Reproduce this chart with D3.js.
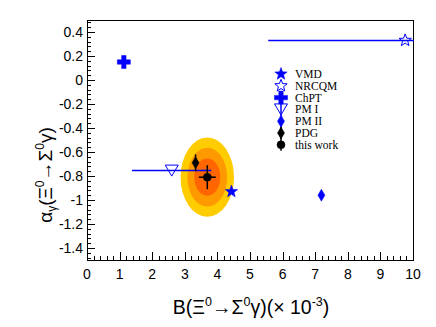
<!DOCTYPE html>
<html>
<head>
<meta charset="utf-8">
<script src="https://cdn.jsdelivr.net/npm/d3@7"></script>
<style>
  body { margin: 0; background: #fff; }
  svg { display: block; }
</style>
</head>
<body>
<svg width="436" height="327"></svg>
<script>
// Theory predictions and measurements
const models = ['VMD', 'NRCQM', 'ChPT', 'PM I', 'PM II', 'PDG', 'this work']
const bValues = [4.43, 9.76, 1.13, 2.6, 7.19, 3.33, 3.69]
const alphaValues = [-0.93, 0.33, 0.15, -0.755, -0.96, -0.69, -0.81]
const bErrLow = [0, 4.2, 0, 1.22, 0, 0, 0.26]
const bErrHigh = [0, 1.0, 0, 1.21, 0, 0, 0.26]
const alphaErr = [0, 0, 0, 0, 0, 0.07, 0.1]
const markerColors = ['blue', 'blue', 'blue', 'blue', 'blue', 'black', 'black']

// confidence contours around this work (3, 2, 1 sigma)
const contourRx = [0.82, 0.61, 0.4]
const contourRy = [0.33, 0.245, 0.155]
const contourColors = ['#ffcc00', '#ff9900', '#ff6600']

const xTicks = d3.range(0, 11, 1)
const yTicks = [-1.4, -1.2, -1, -0.8, -0.6, -0.4, -0.2, 0, 0.2, 0.4]

const svg = d3.select('svg')
const frameL = 87, frameR = 413, frameT = 20, frameB = 260

const x = d3.scaleLinear().domain([0, 10]).range([frameL, frameR])
const y = d3.scaleLinear().domain([-1.5, 0.5]).range([frameB, frameT])

// contours
svg.append('g')
  .selectAll('ellipse')
  .data(contourRx)
  .join('ellipse')
  .attr('cx', x(bValues[6]))
  .attr('cy', y(alphaValues[6]))
  .attr('rx', d => x(d) - x(0))
  .attr('ry', (d, i) => y(0) - y(contourRy[i]))
  .attr('fill', (d, i) => contourColors[i])

// ticks on left and bottom (inside)
const axes = svg.append('g').attr('stroke', 'black').attr('stroke-width', 1)
d3.range(-1.48, 0.5, 0.04).forEach(v => {
  const major = yTicks.some(t => Math.abs(t - v) < 1e-6)
  axes.append('line')
    .attr('x1', frameL).attr('x2', frameL + (major ? 8 : 4))
    .attr('y1', Math.round(y(v)) + 0.5).attr('y2', Math.round(y(v)) + 0.5)
})
d3.range(0, 10.01, 0.2).forEach(v => {
  const major = xTicks.some(t => Math.abs(t - v) < 1e-6)
  axes.append('line')
    .attr('x1', Math.round(x(v)) + 0.5).attr('x2', Math.round(x(v)) + 0.5)
    .attr('y1', frameB).attr('y2', frameB - (major ? 8 : 4))
})

svg.append('rect')
  .attr('x', frameL + 0.5).attr('y', frameT + 0.5)
  .attr('width', frameR - frameL).attr('height', frameB - frameT)
  .attr('fill', 'none').attr('stroke', 'black')

// tick labels
const labelFont = '"Liberation Sans", Arial, sans-serif'
svg.append('g')
  .selectAll('text')
  .data(yTicks)
  .join('text')
  .attr('x', frameL - 4)
  .attr('y', d => y(d) + 5)
  .attr('text-anchor', 'end')
  .attr('font-family', labelFont)
  .attr('font-size', 14)
  .text(d => String(+d.toFixed(1)))

svg.append('g')
  .selectAll('text')
  .data(xTicks)
  .join('text')
  .attr('x', d => x(d))
  .attr('y', 279)
  .attr('text-anchor', 'middle')
  .attr('font-family', labelFont)
  .attr('font-size', 14)
  .text(d => d)

// axis titles
const xt = svg.append('text')
  .attr('x', 251).attr('y', 314)
  .attr('text-anchor', 'middle')
  .attr('font-family', labelFont)
  .attr('font-size', 19.5)
xt.append('tspan').text('B(Ξ')
xt.append('tspan').attr('font-size', 12.5).attr('dy', -8).text('0')
xt.append('tspan').attr('dy', 8).text('→Σ')
xt.append('tspan').attr('font-size', 12.5).attr('dy', -8).text('0')
xt.append('tspan').attr('dy', 8).text('γ)(× 10')
xt.append('tspan').attr('font-size', 12.5).attr('dy', -8).text('-3')
xt.append('tspan').attr('dy', 8).text(')')

const yt = svg.append('text')
  .attr('transform', 'translate(52,175) rotate(-90)')
  .attr('text-anchor', 'middle')
  .attr('font-family', labelFont)
  .attr('font-size', 19)
yt.append('tspan').text('α')
yt.append('tspan').attr('font-size', 12).attr('dy', 4).text('γ')
yt.append('tspan').attr('dy', -4).text('(Ξ')
yt.append('tspan').attr('font-size', 12).attr('dy', -8).text('0')
yt.append('tspan').attr('dy', 8).text('→Σ')
yt.append('tspan').attr('font-size', 12).attr('dy', -8).text('0')
yt.append('tspan').attr('dy', 8).text('γ)')

// marker shapes
const star = r => {
  const pts = []
  for (let k = 0; k < 10; k++) {
    const rr = k % 2 ? r * 0.42 : r
    const a = -Math.PI / 2 + k * Math.PI / 5
    pts.push([rr * Math.cos(a), rr * Math.sin(a)])
  }
  return 'M' + pts.join('L') + 'Z'
}
const shapes = {
  'VMD': { d: star(6.5), fill: true },
  'NRCQM': { d: star(6.5), fill: false },
  'ChPT': { d: 'M-2.2,-6.5H2.2V-2.2H6.5V2.2H2.2V6.5H-2.2V2.2H-6.5V-2.2H-2.2Z', fill: true },
  'PM I': { d: 'M-6.5,-5.5L6.5,-5.5L0,5.5Z', fill: false },
  'PM II': { d: 'M0,-6L3.5,0L0,6L-3.5,0Z', fill: true },
  'PDG': { d: 'M0,-6L3.5,0L0,6L-3.5,0Z', fill: true },
  'this work': { d: d3.symbol(d3.symbolCircle, 50)(), fill: true }
}

svg.append('clipPath').attr('id', 'frame')
  .append('rect').attr('x', frameL).attr('y', frameT)
  .attr('width', frameR - frameL + 1).attr('height', frameB - frameT)
const plot = svg.append('g')
  .attr('clip-path', 'url(#frame)')

models.forEach((m, i) => {
  const c = markerColors[i]
  const cx = x(bValues[i]), cy = y(alphaValues[i])
  if (bErrLow[i] || bErrHigh[i]) {
    plot.append('line')
      .attr('x1', x(bValues[i] - bErrLow[i])).attr('x2', x(bValues[i] + bErrHigh[i]))
      .attr('y1', cy).attr('y2', cy)
      .attr('stroke', c).attr('stroke-width', 1.5)
  }
  if (alphaErr[i]) {
    plot.append('line')
      .attr('x1', cx).attr('x2', cx)
      .attr('y1', y(alphaValues[i] - alphaErr[i])).attr('y2', y(alphaValues[i] + alphaErr[i]))
      .attr('stroke', c).attr('stroke-width', 1.5)
  }
  const s = shapes[m]
  plot.append('path')
    .attr('d', s.d)
    .attr('transform', `translate(${cx},${cy})`)
    .attr('fill', s.fill ? c : 'white')
    .attr('fill-opacity', s.fill ? 1 : 0)
    .attr('stroke', c)
    .attr('stroke-width', s.fill ? 0.5 : 1)
})

// legend
const legend = svg.append('g').attr('transform', 'translate(281,74)')
models.forEach((m, i) => {
  const c = markerColors[i]
  const row = legend.append('g').attr('transform', `translate(0,${i * 11.8})`)
  if (i >= 2) {
    row.append('line')
      .attr('x1', 0).attr('x2', 0).attr('y1', -6).attr('y2', 6)
      .attr('stroke', c).attr('stroke-width', 1.5)
  }
  const s = shapes[m]
  row.append('path')
    .attr('d', s.d)
    .attr('fill', s.fill ? c : 'white')
    .attr('fill-opacity', s.fill ? 1 : 0)
    .attr('stroke', c)
    .attr('stroke-width', s.fill ? 0.5 : 1)
  row.append('text')
    .attr('x', 14).attr('y', 4)
    .attr('font-family', '"Liberation Serif", "Times New Roman", serif')
    .attr('font-size', 11.5)
    .text(m)
})
</script>
</body>
</html>
